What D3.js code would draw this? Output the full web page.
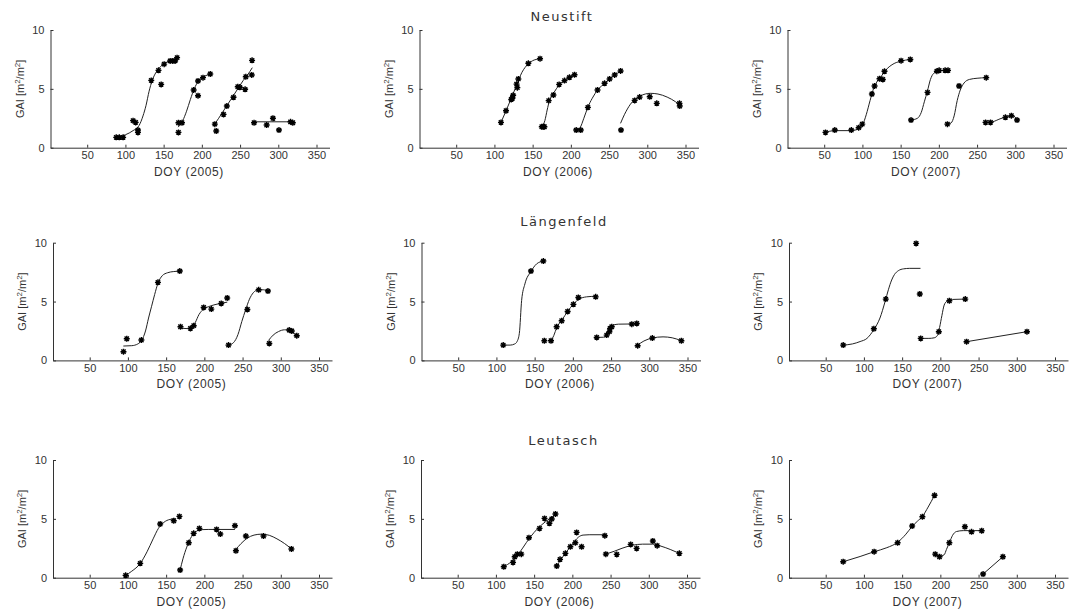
<!DOCTYPE html>
<html>
<head>
<meta charset="utf-8">
<script src="https://cdn.jsdelivr.net/npm/d3@7"></script>
<style>
  html, body { margin: 0; padding: 0; background: #fff; }
  svg text { fill: #333; }
</style>
</head>
<body>
<svg id="chart" width="1070" height="612"></svg>
<script>
// Sites (rows) and years (columns)
const sites = ["Neustift", "Längenfeld", "Leutasch"];
const years = [2005, 2006, 2007];
const xTicks = [50, 100, 150, 200, 250, 300, 350];
const yTicks = [0, 5, 10];

// Measured GAI (DOY, m²/m²)
const neustift2005Points = [[88,0.88],[92,0.88],[97,0.88],[110,2.3],[113.4,2.15],[116.4,1.5],[116.4,1.3],[133.8,5.72],[143.3,6.57],[146.8,5.38],[150.7,7.1],[158.5,7.37],[162,7.37],[165,7.37],[167.6,7.65],
  [169.4,1.3],[169.4,2.12],[174,2.12],[189.3,4.9],[195,5.67],[195,4.42],[201.5,5.95],[211,6.26],
  [217,2.0],[218.8,1.42],[228.4,2.83],[232.7,3.54],[241.4,4.28],[247,5.18],[249.7,5.13],[256.6,4.96],[257.5,6.03],[265.3,6.18],[265.7,7.42],
  [268.3,2.12],[284.8,1.93],[293,2.5],[300.9,1.5],[316,2.2],[319,2.12]];
const neustift2006Points = [[108.6,2.15],[115.2,3.14],[122,4.1],[123.5,4.2],[124.5,4.45],[129,5.4],[130,5.1],[131.3,5.84],[144.4,7.17],[159.7,7.56],
  [162,1.78],[164,1.78],[165.4,1.78],[171,4.0],[177.2,4.48],[184.7,5.38],[191.7,5.7],[198.2,5.98],[204.8,6.2],
  [207,1.5],[213,1.5],[222.3,3.43],[234.9,4.9],[244.1,5.47],[250.7,5.84],[257.3,6.18],[265.1,6.52],
  [265.6,1.5],[283.5,4.02],[290,4.3],[303.2,4.33],[312.4,3.77],[342.1,3.77],[342.5,3.54]];
const neustift2007Points = [[51.7,1.3],[63.9,1.5],[85.5,1.5],[95.1,1.7],[99.8,2.0],[112.4,4.56],[115.9,5.24],[122.4,5.86],[126.7,5.8],[128.9,6.49],[150.6,7.39],[162.7,7.5],
  [163.6,2.35],[185.2,4.7],[197.4,6.5],[200.4,6.57],[208.2,6.57],[212,6.57],
  [211.2,2.0],[226.4,5.24],[262,5.95],
  [261.1,2.15],[267.6,2.15],[287.1,2.58],[294.9,2.72],[302.3,2.35]];
const laengenfeld2005Points = [[94.2,0.74],[98.5,1.84],[117.6,1.73],[139.3,6.63],[167.9,7.59],
  [168.8,2.86],[181.8,2.72],[186.1,2.95],[199.1,4.5],[209.1,4.36],[222.1,4.84],[229.9,5.3],
  [231.6,1.3],[256.3,4.33],[271.1,6.0],[283.2,5.89],
  [285,1.44],[311,2.58],[314.4,2.5],[320.9,2.1]];
const laengenfeld2006Points = [[108.9,1.3],[145.2,7.59],[161.4,8.44],
  [162.7,1.67],[171.4,1.67],[178.8,2.86],[185.4,3.37],[193.2,4.16],[200.7,4.76],[207.2,5.35],[229.9,5.4],
  [231.2,1.95],[244.3,2.15],[247.8,2.44],[248.7,2.72],[250.9,2.86],[277.1,3.08],[283.6,3.14],
  [284.8,1.25],[304,1.9],[342,1.67]];
const laengenfeld2007Points = [[72.9,1.3],[113,2.69],[128.6,5.21],[168.3,9.94],[173.1,5.64],
  [174.3,1.87],[198,2.44],[211.8,5.07],[232.6,5.21],
  [234.3,1.59],[313.3,2.44]];
const leutasch2005Points = [[97,0.2],[116.1,1.22],[142.2,4.56],[160,4.84],[167.4,5.21],
  [168.3,0.65],[179.6,2.97],[186,3.77],[193.5,4.19],[216,4.1],[220.9,3.71],[240,4.42],
  [241.3,2.29],[254.3,3.54],[277.4,3.54],[313.9,2.44]];
const leutasch2006Points = [[110.3,0.93],[122.4,1.3],[124.6,1.78],[128,2.0],[133.2,2.0],[143.2,3.4],[157.1,4.19],[163.6,5.04],[170,4.62],[173.1,4.99],[177.9,5.41],
  [179.6,0.99],[183.9,1.56],[190.9,2.07],[197.4,2.63],[203.9,2.97],[205.6,3.85],[212.1,2.63],[242.5,3.57],
  [243.8,2.0],[258.1,1.98],[276.3,2.83],[284.1,2.49],[305.3,3.12],[311,2.72],[340,2.07]];
const leutasch2007Points = [[72.9,1.36],[113.4,2.21],[144.1,2.97],[163.1,4.39],[176.5,5.18],[192.4,7.0],
  [193.3,2.0],[198.9,1.78],[211.8,2.97],[232.1,4.33],[240.8,3.9],[254.1,3.99],
  [255.9,0.31],[281.8,1.78]];

// Fitted GAI curves, one list per growth period
const neustift2005Curves = [
  [[86,0.88],[100,1.1],[110,1.45],[118,1.9],[123,2.7],[127,3.6],[131,4.8],[135,5.7],[140,6.4],[146,6.9],[152,7.2],[160,7.4],[168,7.55]],
  [[169,1.75],[175,2.3],[180,3.1],[185,4.1],[190,5.0],[196,5.7],[203,6.05],[212,6.26]],
  [[216,1.93],[222,2.5],[230,3.3],[238,4.1],[246,4.9],[254,5.7],[260,6.2],[266,6.8]],
  [[266,2.2],[320,2.2]]];
const neustift2006Curves = [
  [[108.6,2.15],[115,3.1],[122,4.2],[129,5.3],[136,6.4],[144,7.1],[152,7.45],[160,7.56]],
  [[162,1.8],[166,2.3],[169,3.2],[172,4.0],[178,4.7],[185,5.35],[195,5.85],[205,6.2]],
  [[207,1.5],[212,1.7],[217,2.5],[222,3.4],[228,4.2],[235,4.9],[245,5.5],[255,6.05],[265,6.5]],
  [[265,2.07],[270,2.8],[278,3.7],[291,4.4],[304,4.62],[314,4.56],[326,4.3],[337,3.9],[343,3.6]]];
const neustift2007Curves = [
  [[50,1.3],[65,1.45],[85,1.45],[95,1.6],[100,1.9],[105,2.8],[110,4.0],[115,5.1],[120,5.7],[125,6.1],[130,6.55],[140,7.1],[150,7.35],[163,7.5]],
  [[163.6,2.35],[172,2.5],[177,3.0],[181,3.9],[185,4.8],[189,5.8],[193,6.3],[200,6.52],[212,6.57]],
  [[211,2.0],[216,2.1],[220,2.7],[224,4.0],[228,4.9],[233,5.5],[240,5.8],[250,5.9],[262,5.95]],
  [[261,2.15],[270,2.2],[280,2.45],[290,2.65],[297,2.72],[302.3,2.35]]];
const laengenfeld2005Curves = [
  [[94,1.22],[105,1.25],[113,1.4],[118,1.7],[123,2.5],[127,3.6],[131,4.6],[135,5.6],[139,6.5],[145,7.2],[152,7.45],[160,7.55],[168,7.59]],
  [[168.8,2.75],[178,2.7],[184,2.8],[188,3.2],[193,3.9],[199,4.35],[207,4.6],[218,4.8],[230,4.95]],
  [[231.6,1.3],[238,1.5],[244,2.2],[249,3.3],[254,4.3],[259,5.2],[264,5.75],[270,5.98],[277,6.0],[284,5.85]],
  [[284,1.7],[290,2.15],[297,2.45],[305,2.6],[312,2.55],[317,2.3],[321,2.1]]];
const laengenfeld2006Curves = [
  [[109,1.3],[118,1.3],[124,1.4],[127,1.6],[130,2.3],[133,5.1],[137.3,6.5],[145.2,7.55],[152.6,8.2],[161.4,8.44]],
  [[171.4,1.67],[175,2.1],[179,2.8],[186,3.45],[193,4.15],[201,4.8],[208,5.2],[218,5.4],[230,5.45]],
  [[231.2,1.95],[240,1.97],[245,2.15],[249,2.7],[253,3.0],[260,3.08],[283.6,3.1]],
  [[284.8,1.3],[293,1.65],[304,1.9],[318,2.0],[330,1.92],[342,1.67]]];
const laengenfeld2007Curves = [
  [[73,1.3],[85,1.4],[95,1.6],[104,1.87],[112.6,2.58],[121,3.6],[127.7,5.0],[132,6.0],[136.3,6.83],[140,7.3],[145,7.62],[152,7.78],[160,7.82],[174,7.82]],
  [[174.3,1.87],[185,1.87],[192,1.92],[196,2.1],[199,2.8],[202,3.8],[205,4.7],[209,5.05],[216,5.18],[232.6,5.21]],
  [[234.3,1.59],[313.3,2.44]]];
const leutasch2005Curves = [
  [[97,0.2],[105,0.55],[116,1.2],[125,2.2],[133,3.3],[140,4.2],[147,4.7],[155,4.95],[162,5.0]],
  [[168.3,0.65],[172,1.6],[177,2.6],[182,3.35],[188,3.85],[195,4.08],[205,4.1],[240,4.1]],
  [[241.3,2.4],[248,2.9],[256,3.35],[265,3.62],[275,3.7],[285,3.6],[295,3.3],[305,2.9],[313.9,2.45]]];
const leutasch2006Curves = [
  [[110,0.93],[120,1.35],[130,2.05],[140,3.0],[150,3.85],[160,4.5],[170,5.0],[178,5.35]],
  [[179.6,1.0],[185,1.55],[190,2.0],[197,2.6],[203,3.1],[208,3.45],[214,3.62],[222,3.65],[242.5,3.65]],
  [[243.8,2.0],[255,2.25],[265,2.5],[278,2.75],[292,2.85],[305,2.85],[315,2.7],[328,2.4],[340,2.07]]];
const leutasch2007Curves = [
  [[73,1.36],[95,1.8],[113,2.2],[130,2.55],[144,3.0],[155,3.7],[163,4.35],[170,4.8],[176.5,5.2],[184,6.0],[192.4,7.0]],
  [[193.3,2.0],[199,1.82],[205,1.95],[208,2.4],[212,3.0],[216,3.6],[221,3.92],[230,4.0],[254,4.0]],
  [[255.9,0.31],[281.8,1.78]]];

const panelPoints = [
  [neustift2005Points, neustift2006Points, neustift2007Points],
  [laengenfeld2005Points, laengenfeld2006Points, laengenfeld2007Points],
  [leutasch2005Points, leutasch2006Points, leutasch2007Points]];
const panelCurves = [
  [neustift2005Curves, neustift2006Curves, neustift2007Curves],
  [laengenfeld2005Curves, laengenfeld2006Curves, laengenfeld2007Curves],
  [leutasch2005Curves, leutasch2006Curves, leutasch2007Curves]];

// Panel geometry
const axisLeft = [[50.5, 419.5, 787.5], [53, 421.5, 789], [53, 421, 789]];
const axisTop = [30, 242.7, 460];
const titleBaseline = [21, 226, 445];
const plotW = 279, plotH = 117.7;

const svg = d3.select("#chart");
const tickFont = "'Liberation Sans', Arial, sans-serif";

// MATLAB-like asterisk marker
function asterisk(r) {
  const d = r * 0.72;
  return `M${-r},0H${r}M0,${-r}V${r}M${-d},${-d}L${d},${d}M${-d},${d}L${d},${-d}`;
}

sites.forEach((site, ri) => {
  years.forEach((year, ci) => {
    const left = axisLeft[ri][ci], top = axisTop[ri];
    const x = d3.scaleLinear().domain([2, 367]).range([left, left + plotW]);
    const y = d3.scaleLinear().domain([0, 10]).range([top + plotH, top]);
    const g = svg.append("g");

    // x axis
    const gx = g.append("g")
      .attr("transform", `translate(0,${top + plotH})`)
      .call(d3.axisBottom(x).tickValues(xTicks).tickSizeInner(-3).tickSizeOuter(0).tickPadding(4));
    // y axis
    const gy = g.append("g")
      .attr("transform", `translate(${left},0)`)
      .call(d3.axisLeft(y).tickValues(yTicks).tickSizeInner(-3).tickSizeOuter(0).tickPadding(6));
    [gx, gy].forEach(a => {
      a.select(".domain").attr("stroke", "#333").attr("stroke-width", 1);
      a.selectAll(".tick line").attr("stroke", "#333");
      a.selectAll("text").attr("font-family", tickFont).attr("font-size", 11).attr("fill", "#333");
    });

    // axis titles
    g.append("text")
      .attr("x", left + plotW / 2 - 1).attr("y", top + plotH + 28)
      .attr("text-anchor", "middle")
      .attr("font-family", tickFont).attr("font-size", 12).attr("letter-spacing", 0.6)
      .text(`DOY (${year})`);
    const yl = g.append("text")
      .attr("transform", `translate(${left - 27},${top + plotH / 2}) rotate(-90)`)
      .attr("text-anchor", "middle")
      .attr("font-family", tickFont).attr("font-size", 11);
    yl.append("tspan").text("GAI [m");
    yl.append("tspan").attr("dy", -4).attr("font-size", 8).text("2");
    yl.append("tspan").attr("dy", 4).text("/m");
    yl.append("tspan").attr("dy", -4).attr("font-size", 8).text("2");
    yl.append("tspan").attr("dy", 4).text("]");

    // fitted curves
    const line = d3.line().x(d => x(d[0])).y(d => y(d[1])).curve(d3.curveMonotoneX);
    g.selectAll("path.fit").data(panelCurves[ri][ci]).join("path")
      .attr("class", "fit")
      .attr("d", line)
      .attr("fill", "none").attr("stroke", "#222").attr("stroke-width", 1);

    // measurements
    g.selectAll("path.obs").data(panelPoints[ri][ci]).join("path")
      .attr("class", "obs")
      .attr("transform", d => `translate(${x(d[0])},${y(d[1])})`)
      .attr("d", asterisk(3))
      .attr("fill", "none").attr("stroke", "#000").attr("stroke-width", 1.4);

    // site title above the middle column
    if (ci === 1) {
      svg.append("text")
        .attr("x", left + plotW / 2 + 3).attr("y", titleBaseline[ri])
        .attr("text-anchor", "middle")
        .attr("font-family", "'DejaVu Sans', Verdana, sans-serif")
        .attr("font-size", 13).attr("letter-spacing", 1.5)
        .text(site);
    }
  });
});
</script>
</body>
</html>
